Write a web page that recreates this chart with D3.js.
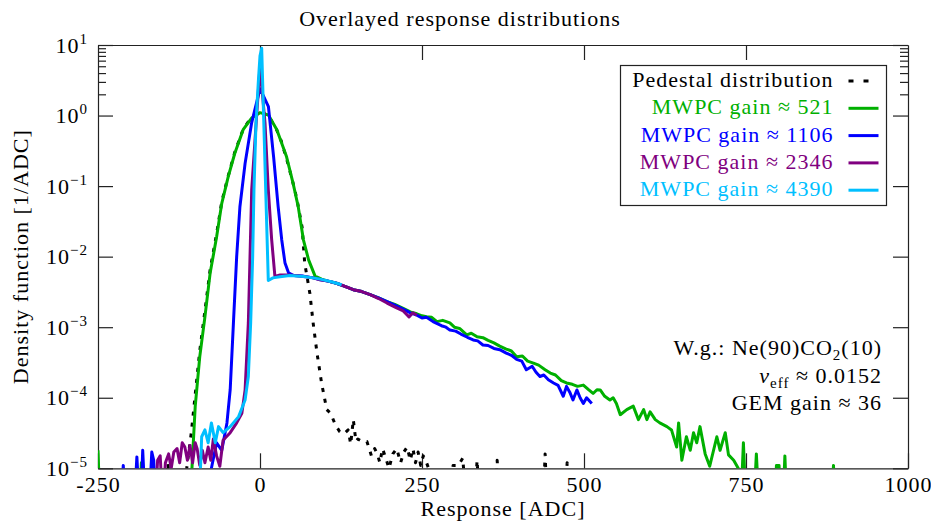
<!DOCTYPE html>
<html>
<head>
<meta charset="utf-8">
<script src="https://cdn.jsdelivr.net/npm/d3@7"></script>
<style>
  body { margin: 0; background: #ffffff; }
  svg text { font-family: "Liberation Serif", "DejaVu Serif", serif; letter-spacing: 1px; }
</style>
</head>
<body>
<svg id="vis"></svg>
<script>
// response values [ADC, density]; 3e-6 marks empty bins (below the plot floor)
const pedestal = [
  [-146, 3e-6], [-142, 1.2e-5], [-138, 3e-6], [-120, 3e-6], [-112, 1.2e-5], [-106, 3.2e-5],
  [-100, 1.1e-4], [-93, 4.6e-4], [-85, 1.7e-3], [-77, 6.5e-3], [-67, 2.1e-2], [-59, 6.0e-2],
  [-49, 0.14], [-39, 0.30], [-26, 0.64], [-13, 0.95], [0, 1.13], [13, 1.0], [26, 0.62],
  [33, 0.43], [43, 0.21], [51, 0.11], [57, 0.065], [65, 0.026], [69, 8.1e-3], [77, 3.0e-3],
  [82, 1.15e-3], [88, 4.3e-4], [95, 1.62e-4], [103, 6.8e-5], [109, 6.0e-5], [116, 4.2e-5],
  [123, 3.3e-5], [130, 3.1e-5], [136, 3.5e-5], [140, 2.2e-5], [144, 4.9e-5], [148, 2.4e-5],
  [151, 2.6e-5], [158, 2.4e-5], [165, 2.4e-5], [172, 1.5e-5], [177, 1.9e-5], [181, 1.6e-5],
  [185, 1.2e-5], [189, 1.9e-5], [193, 1.5e-5], [199, 1.0e-5], [205, 1.6e-5], [211, 1.9e-5],
  [217, 1.2e-5], [222, 1.7e-5], [227, 2.0e-5], [232, 1.3e-5], [236, 1.9e-5], [240, 1.2e-5],
  [244, 1.7e-5], [248, 1.1e-5], [252, 1.5e-5], [257, 1.2e-5], [262, 9e-6], [266, 3e-6],
  [294, 3e-6], [298, 1.1e-5], [306, 1.1e-5], [313, 1.4e-5], [318, 3e-6], [331, 3e-6],
  [335, 1.3e-5], [339, 3e-6], [362, 3e-6], [366, 1.3e-5], [370, 3e-6], [386, 3e-6],
  [389, 1.0e-5], [392, 3e-6], [437, 3e-6], [440, 1.6e-5], [443, 3e-6], [470, 3e-6],
  [474, 1.2e-5], [478, 3e-6], [550, 3e-6]
];

const gain521 = [
  [-250, 1.8e-5], [-247, 3e-6], [-186, 3e-6], [-183, 1.2e-5], [-180, 3e-6], [-110, 3e-6],
  [-105, 1.0e-5], [-100, 7.5e-5], [-93, 3.8e-4], [-85, 1.4e-3], [-77, 5.8e-3], [-67, 1.9e-2],
  [-59, 5.7e-2], [-49, 0.136], [-39, 0.29], [-26, 0.63], [-13, 0.92], [0, 1.1], [13, 1.02],
  [26, 0.63], [41, 0.26], [51, 0.11], [59, 0.051], [67, 0.0173], [75, 9.0e-3], [85, 5.3e-3],
  [95, 4.8e-3], [105, 4.5e-3], [118, 4.2e-3], [131, 3.8e-3], [144, 3.4e-3], [157, 3.2e-3],
  [170, 2.9e-3], [183, 2.6e-3], [196, 2.3e-3], [208, 2.1e-3], [221, 1.85e-3], [232, 1.65e-3],
  [242, 1.55e-3], [250, 1.45e-3], [257, 1.41e-3], [265, 1.38e-3], [273, 1.2e-3], [282, 1.25e-3],
  [293, 1.15e-3], [300, 1.0e-3], [308, 9.6e-4], [319, 7.8e-4], [326, 8.2e-4], [335, 7.3e-4],
  [344, 7.1e-4], [352, 6.5e-4], [361, 6.0e-4], [370, 5.4e-4], [380, 4.9e-4], [388, 4.6e-4],
  [396, 3.8e-4], [405, 3.9e-4], [413, 3.3e-4], [422, 3.1e-4], [430, 2.9e-4], [440, 2.5e-4],
  [448, 2.24e-4], [456, 2.1e-4], [465, 1.75e-4], [473, 1.62e-4], [482, 1.55e-4], [490, 1.45e-4],
  [499, 1.51e-4], [507, 1.3e-4], [514, 1.15e-4], [520, 1.3e-4], [525, 1.29e-4], [532, 1.05e-4],
  [540, 9.3e-5], [545, 1.0e-4], [550, 8.3e-5], [556, 5.75e-5], [566, 6.8e-5], [576, 7.6e-5],
  [584, 4.9e-5], [592, 6.8e-5], [597, 4.9e-5], [602, 6.3e-5], [610, 4.9e-5], [617, 4.4e-5],
  [628, 3.9e-5], [635, 3.5e-5], [643, 2.0e-5], [646, 4.4e-5], [651, 1.3e-5], [658, 2.8e-5],
  [664, 1.8e-5], [669, 3.2e-5], [674, 2.3e-5], [679, 3.9e-5], [687, 1.6e-5], [694, 1.07e-5],
  [705, 2.8e-5], [710, 1.8e-5], [718, 3.2e-5], [723, 1.55e-5], [731, 1.3e-5], [738, 1.0e-5],
  [742, 3e-6], [746, 2.3e-5], [750, 3e-6], [762, 3e-6], [766, 1.6e-5], [770, 3e-6],
  [794, 3e-6], [797, 1.1e-5], [801, 1.1e-5], [804, 3e-6], [807, 3e-6], [810, 1.5e-5],
  [813, 3e-6], [882, 3e-6], [885, 1.1e-5], [888, 3e-6]
];

const gain1106 = [
  [-215, 3e-6], [-211, 1.1e-5], [-207, 3e-6], [-194, 3e-6], [-190, 1.45e-5], [-186, 3e-6],
  [-184, 3e-6], [-181, 1.8e-5], [-177, 3e-6], [-171, 3e-6], [-167, 1.7e-5], [-164, 1.3e-5],
  [-161, 3e-6], [-80, 3e-6], [-75, 1.0e-5], [-67, 2.3e-5], [-59, 1.8e-5], [-51, 4.4e-5],
  [-46, 1.3e-4], [-41, 1.15e-3], [-36, 1.0e-2], [-31, 5.1e-2], [-23, 0.21], [-13, 0.78],
  [0, 2.4], [13, 1.34], [21, 0.26], [28, 0.051], [33.5, 0.0174], [38.6, 8.1e-3], [44, 5.9e-3],
  [52, 5.4e-3], [67, 5.3e-3], [82, 5.0e-3], [93, 4.7e-3], [105, 4.5e-3], [118, 4.2e-3],
  [131, 3.8e-3], [144, 3.4e-3], [157, 3.2e-3], [170, 2.9e-3], [183, 2.6e-3], [196, 2.3e-3],
  [208, 2.05e-3], [221, 1.8e-3], [232, 1.6e-3], [242, 1.48e-3], [250, 1.35e-3], [257, 1.38e-3],
  [267, 1.2e-3], [280, 1.05e-3], [287, 1.0e-3], [293, 9.1e-4], [302, 8.8e-4], [310, 8.0e-4],
  [320, 7.2e-4], [329, 6.6e-4], [336, 6.4e-4], [344, 5.6e-4], [352, 5.5e-4], [361, 5.0e-4],
  [370, 4.8e-4], [380, 4.3e-4], [388, 4.0e-4], [396, 3.5e-4], [404, 3.3e-4], [411, 2.5e-4],
  [420, 2.8e-4], [426, 2.3e-4], [432, 2.0e-4], [438, 2.1e-4], [445, 1.8e-4], [453, 1.62e-4],
  [460, 1.5e-4], [468, 1.05e-4], [473, 1.45e-4], [478, 1.2e-4], [483, 9.3e-5], [489, 1.29e-4],
  [494, 1.0e-4], [499, 8.3e-5], [504, 1.0e-4], [512, 8.3e-5]
];

const gain2346 = [
  [-162, 3e-6], [-158, 1.3e-5], [-154, 1.5e-5], [-150, 3e-6], [-146, 1.2e-5], [-141, 1.6e-5],
  [-137, 1.0e-5], [-133, 1.7e-5], [-128, 1.9e-5], [-124, 1.2e-5], [-120, 2.3e-5], [-116, 2.0e-5],
  [-112, 1.3e-5], [-108, 2.1e-5], [-104, 1.2e-5], [-100, 2.3e-5], [-97, 1.9e-5], [-93, 1.1e-5],
  [-89, 1.8e-5], [-85, 1.2e-5], [-80, 2.0e-5], [-76, 1.3e-5], [-72, 2.6e-5], [-67, 1.5e-5],
  [-62, 1.07e-5], [-57, 2.5e-5], [-46, 3.2e-5], [-36, 4.4e-5], [-28, 6.0e-5], [-23, 1.29e-4],
  [-18, 1.15e-3], [-15.4, 1.0e-2], [-12.8, 8.9e-2], [-7.7, 0.45], [0, 5.0], [7.7, 0.79],
  [12.8, 8.9e-2], [18, 1.74e-2], [23, 5.25e-3], [31, 5.5e-3], [46, 5.5e-3], [67, 5.25e-3],
  [82, 5.0e-3], [93, 4.7e-3], [105, 4.5e-3], [118, 4.2e-3], [131, 3.8e-3], [144, 3.4e-3],
  [157, 3.2e-3], [170, 2.9e-3], [183, 2.55e-3], [196, 2.2e-3], [210, 1.9e-3], [221, 1.7e-3],
  [230, 1.4e-3], [236, 1.6e-3], [242, 1.48e-3]
];

const gain4390 = [
  [-94, 3e-6], [-90, 2.8e-5], [-85, 3.5e-5], [-80, 2.3e-5], [-75, 4.4e-5], [-69, 2.3e-5],
  [-64, 3.9e-5], [-57, 3.2e-5], [-46, 3.9e-5], [-33, 5.4e-5], [-23, 9.3e-5], [-18, 2.0e-4],
  [-14.4, 1.15e-3], [-11.3, 1.0e-2], [-9.3, 8.9e-2], [-6.2, 0.78], [-2.6, 3.0], [0, 7.0],
  [2.6, 9.0], [12.8, 4.6e-3], [20, 5.0e-3], [31, 5.2e-3], [46, 5.4e-3], [67, 5.25e-3],
  [82, 5.0e-3], [93, 4.8e-3], [110, 4.4e-3], [126, 4.0e-3]
];

const seriesNames = [
  "Pedestal distribution",
  "MWPC gain \u2248 521",
  "MWPC gain \u2248 1106",
  "MWPC gain \u2248 2346",
  "MWPC gain \u2248 4390"
];
const seriesColors = ["#000000", "#00b000", "#0000ff", "#800080", "#00bfff"];

const xTicks = [-250, 0, 250, 500, 750, 1000];
const yTicks = [1e-5, 1e-4, 1e-3, 1e-2, 1e-1, 1, 10];
const yMinorTicks = [2, 3, 4, 5, 6, 7, 8, 9];

let config = {
  'svg': {},
  'plot': {},
  'legend': {}
};

config.svg.width = 931;
config.svg.height = 523;

config.plot.x = 98;
config.plot.y = 45;
config.plot.width = 810;
config.plot.height = 423.3;

config.legend.x = 620.5;
config.legend.y = 65.5;
config.legend.width = 266;
config.legend.height = 140;
config.legend.row = 27.3;

const svg = d3.select("svg#vis")
  .attr('width', config.svg.width)
  .attr('height', config.svg.height);

let plot = svg.append('g')
  .attr('id', 'plot')
  .attr('transform', translate(config.plot.x, config.plot.y));

let scale = {};
scale.x = d3.scaleLinear().domain([-250, 1000]).range([0, config.plot.width]);
scale.y = d3.scaleLog().domain([1e-5, 10]).range([config.plot.height, 0]);

let series = [pedestal, gain521, gain1106, gain2346, gain4390].map((data, i) => ({
  name: seriesNames[i],
  color: seriesColors[i],
  dashed: i === 0,
  data: data
}));

drawAxes();
drawLines();
drawLegend();
drawTitles();

function drawAxes() {
  let frame = '#222';

  plot.append('g')
    .attr('transform', translate(0, config.plot.height))
    .call(d3.axisBottom(scale.x)
      .tickValues(xTicks)
      .tickSizeInner(-15)
      .tickSizeOuter(0)
      .tickPadding(8)
      .tickFormat(d => String(d)));

  plot.append('g')
    .call(d3.axisTop(scale.x)
      .tickValues(xTicks.slice(1, -1))
      .tickSizeInner(-15)
      .tickSizeOuter(0)
      .tickFormat(''));

  let left = plot.append('g')
    .call(d3.axisLeft(scale.y)
      .tickValues(yTicks)
      .tickSizeInner(-15)
      .tickSizeOuter(0)
      .tickPadding(10));

  left.selectAll('.tick text')
    .text('')
    .each(function(d) {
      let t = d3.select(this);
      let exp = String(Math.round(Math.log10(d))).replace('-', '\u2212');
      t.append('tspan').text('10');
      t.append('tspan')
        .attr('dy', '-9')
        .attr('font-size', 15)
        .text(exp);
    });

  plot.append('g')
    .attr('transform', translate(config.plot.width, 0))
    .call(d3.axisRight(scale.y)
      .tickValues(yTicks)
      .tickSizeInner(-15)
      .tickSizeOuter(0)
      .tickFormat(''));

  plot.append('g')
    .call(d3.axisLeft(scale.y)
      .tickValues(yMinorTicks)
      .tickSizeInner(-8)
      .tickFormat(''))
    .select('.domain').remove();

  plot.append('g')
    .attr('transform', translate(config.plot.width, 0))
    .call(d3.axisRight(scale.y)
      .tickValues(yMinorTicks)
      .tickSizeInner(-8)
      .tickFormat(''))
    .select('.domain').remove();

  plot.selectAll('.domain, .tick line')
    .attr('stroke', frame)
    .attr('stroke-width', 1.2);

  plot.selectAll('.tick text')
    .attr('fill', '#000')
    .attr('font-family', '"Liberation Serif", serif')
    .attr('font-size', 22);
}

function drawLines() {
  svg.append('defs')
    .append('clipPath')
    .attr('id', 'clip')
    .append('rect')
    .attr('width', config.plot.width)
    .attr('height', config.plot.height);

  let line = d3.line()
    .x(d => scale.x(d[0]))
    .y(d => scale.y(d[1]));

  plot.append('g')
    .attr('clip-path', 'url(#clip)')
    .selectAll('path')
    .data(series)
    .enter()
    .append('path')
    .attr('d', d => line(d.data))
    .attr('fill', 'none')
    .attr('stroke', d => d.color)
    .attr('stroke-width', 3)
    .attr('stroke-linejoin', 'round')
    .attr('stroke-dasharray', d => d.dashed ? '4,7' : null);
}

function drawLegend() {
  let legend = svg.append('g')
    .attr('id', 'legend')
    .attr('transform', translate(config.legend.x, config.legend.y));

  legend.append('rect')
    .attr('width', config.legend.width)
    .attr('height', config.legend.height)
    .attr('fill', '#fff')
    .attr('stroke', '#222')
    .attr('stroke-width', 1.2);

  let rows = legend.selectAll('g.row')
    .data(series)
    .enter()
    .append('g')
    .attr('class', 'row')
    .attr('transform', (d, i) => translate(0, 21.5 + i * config.legend.row));

  rows.append('text')
    .attr('x', 213)
    .attr('text-anchor', 'end')
    .attr('font-size', 22)
    .attr('fill', d => d.color)
    .text(d => d.name);

  rows.append('line')
    .attr('x1', 228)
    .attr('x2', 258)
    .attr('y1', -6)
    .attr('y2', -6)
    .attr('stroke', d => d.color)
    .attr('stroke-width', 3)
    .attr('stroke-dasharray', d => d.dashed ? '5,10' : null);
}

function drawTitles() {
  svg.append('text')
    .text('Overlayed response distributions')
    .attr('x', 460)
    .attr('y', 26)
    .attr('text-anchor', 'middle')
    .attr('font-size', 22);

  svg.append('text')
    .text('Response [ADC]')
    .attr('x', config.plot.x + config.plot.width / 2)
    .attr('y', 516)
    .attr('text-anchor', 'middle')
    .attr('font-size', 22);

  svg.append('text')
    .text('Density function [1/ADC]')
    .attr('transform', translate(28, config.plot.y + config.plot.height / 2) + ' rotate(-90)')
    .attr('text-anchor', 'middle')
    .attr('font-size', 22);

  let note = svg.append('g')
    .attr('id', 'note')
    .attr('font-size', 22)
    .attr('text-anchor', 'end');

  let gas = note.append('text').attr('x', 882).attr('y', 355);
  gas.append('tspan').text('W.g.:  Ne(90)CO');
  gas.append('tspan').attr('dy', 5).attr('font-size', 15).text('2');
  gas.append('tspan').attr('dy', -5).text('(10)');

  let nu = note.append('text').attr('x', 882).attr('y', 383);
  nu.append('tspan').attr('font-style', 'italic').text('\u03bd');
  nu.append('tspan').attr('dy', 5).attr('font-size', 15).text('eff');
  nu.append('tspan').attr('dy', -5).text(' \u2248 0.0152');

  note.append('text')
    .attr('x', 882)
    .attr('y', 410)
    .text('GEM gain \u2248 36');
}

function translate(x, y) {
  return 'translate(' + x + ',' + y + ')';
}
</script>
</body>
</html>
